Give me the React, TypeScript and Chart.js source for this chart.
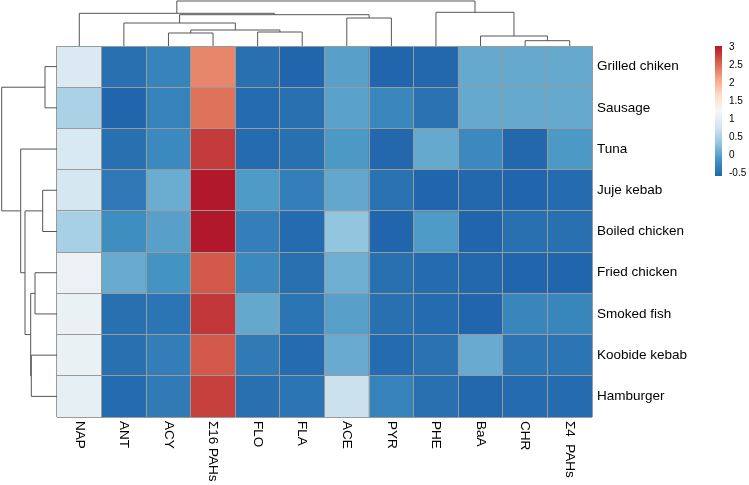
import React, { useEffect, useRef } from "react";
import { Chart, registerables } from "chart.js";

Chart.register(...registerables);

// ---- data ----
const columns = ["NAP", "ANT", "ACY", "Σ16 PAHs", "FLO", "FLA", "ACE", "PYR", "PHE", "BaA", "CHR", "Σ4  PAHs"];
const rowNames = [
  "Grilled chiken",
  "Sausage",
  "Tuna",
  "Juje kebab",
  "Boiled chicken",
  "Fried chicken",
  "Smoked fish",
  "Koobide kebab",
  "Hamburger",
];

const grilledChiken = [0.86, -0.5, -0.31, 2.3, -0.5, -0.6, -0.03, -0.6, -0.58, 0.05, 0.05, 0.05];
const sausage = [0.47, -0.6, -0.32, 2.43, -0.55, -0.5, -0.02, -0.27, -0.48, 0.05, 0.05, 0.05];
const tuna = [0.85, -0.5, -0.25, 2.78, -0.55, -0.5, -0.1, -0.58, 0.05, -0.25, -0.58, -0.1];
const jujeKebab = [0.8, -0.42, 0.08, 3.0, -0.08, -0.35, 0.03, -0.48, -0.6, -0.58, -0.6, -0.55];
const boiledChicken = [0.45, -0.2, -0.03, 3.0, -0.35, -0.55, 0.3, -0.6, -0.08, -0.6, -0.5, -0.5];
const friedChicken = [1.06, 0.06, -0.15, 2.6, -0.25, -0.5, 0.09, -0.5, -0.55, -0.58, -0.6, -0.6];
const smokedFish = [1.05, -0.5, -0.45, 2.8, 0.04, -0.45, -0.03, -0.5, -0.55, -0.6, -0.28, -0.28];
const koobideKebab = [1.05, -0.5, -0.36, 2.6, -0.4, -0.55, 0.06, -0.55, -0.48, 0.06, -0.45, -0.45];
const hamburger = [0.99, -0.55, -0.4, 2.75, -0.5, -0.45, 0.71, -0.32, -0.5, -0.58, -0.55, -0.55];

const rowValues = [grilledChiken, sausage, tuna, jujeKebab, boiledChicken, friedChicken, smokedFish, koobideKebab, hamburger];

// hclust-style merges: negative = leaf (1-based), positive = earlier merge (1-based)
const colMerges = [[-3, -4], [-5, -6], [1, 2], [-2, 3], [-7, -8], [4, 5], [-1, 6], [-11, -12], [-10, 8], [-9, 9], [7, 10]];
const colHeights = [13, 14, 16, 23, 28, 31.3, 32.7, 5.3, 10, 33.7, 45];
const rowMerges = [[-1, -2], [-4, -5], [-6, -7], [-8, -9], [3, 4], [2, 5], [-3, 6], [1, 7]];
const rowHeights = [12, 14.3, 22, 25.7, 26.3, 32, 36.3, 55.3];

const legendTicks = [3, 2.5, 2, 1.5, 1, 0.5, 0, -0.5];
const colorMin = -0.6;
const colorMax = 3.0;
const palette = ["#2166AC", "#4393C3", "#92C5DE", "#D1E5F0", "#F7F7F7", "#FDDBC7", "#F4A582", "#D6604D", "#B2182B"];

// ---- helpers ----
function hexToRgb(h: string): number[] {
  return [parseInt(h.slice(1, 3), 16), parseInt(h.slice(3, 5), 16), parseInt(h.slice(5, 7), 16)];
}
function colorFor(v: number): string {
  let t = (v - colorMin) / (colorMax - colorMin);
  t = Math.max(0, Math.min(1, t));
  const s = t * (palette.length - 1);
  const i = Math.min(Math.floor(s), palette.length - 2);
  const f = s - i;
  const a = hexToRgb(palette[i]);
  const b = hexToRgb(palette[i + 1]);
  const c = a.map((x, k) => Math.round(x + (b[k] - x) * f));
  return `rgb(${c[0]},${c[1]},${c[2]})`;
}

function dendroNodes(merges: number[][], heights: number[], leafPos: (i: number) => number) {
  const pos: number[] = [];
  const getPos = (id: number) => (id < 0 ? leafPos(-id - 1) : pos[id - 1]);
  const getH = (id: number) => (id < 0 ? 0 : heights[id - 1]);
  const segs: { pa: number; ha: number; pb: number; hb: number; h: number }[] = [];
  merges.forEach((m, k) => {
    const pa = getPos(m[0]);
    const pb = getPos(m[1]);
    pos[k] = (pa + pb) / 2;
    segs.push({ pa, ha: getH(m[0]), pb, hb: getH(m[1]), h: heights[k] });
  });
  return segs;
}

const heatmapPlugin = {
  id: "heatmapExtras",
  afterDraw(chart: any) {
    const ctx = chart.ctx as CanvasRenderingContext2D;
    const area = chart.chartArea;
    const xs = chart.scales.x;
    const ys = chart.scales.y;

    // column dendrogram (top)
    const colMax = Math.max(...colHeights);
    const colScale = (area.top - 1) / colMax;
    const cSegs = dendroNodes(colMerges, colHeights, (i) => i);
    ctx.save();
    ctx.strokeStyle = "#555555";
    ctx.lineWidth = 1;
    ctx.beginPath();
    cSegs.forEach((s) => {
      const xa = xs.getPixelForValue(s.pa);
      const xb = xs.getPixelForValue(s.pb);
      const ya = area.top - s.ha * colScale;
      const yb = area.top - s.hb * colScale;
      const y = area.top - s.h * colScale;
      ctx.moveTo(xa, ya);
      ctx.lineTo(xa, y);
      ctx.lineTo(xb, y);
      ctx.lineTo(xb, yb);
    });
    ctx.stroke();

    // row dendrogram (left)
    const rowMax = Math.max(...rowHeights);
    const rowScale = (area.left - 1.7) / rowMax;
    const rSegs = dendroNodes(rowMerges, rowHeights, (i) => i + 0.5);
    ctx.beginPath();
    rSegs.forEach((s) => {
      const ya = ys.getPixelForValue(s.pa);
      const yb = ys.getPixelForValue(s.pb);
      const xa = area.left - s.ha * rowScale;
      const xb = area.left - s.hb * rowScale;
      const x = area.left - s.h * rowScale;
      ctx.moveTo(xa, ya);
      ctx.lineTo(x, ya);
      ctx.lineTo(x, yb);
      ctx.lineTo(xb, yb);
    });
    ctx.stroke();

    // row labels
    ctx.fillStyle = "#000000";
    ctx.font = '13.5px "Liberation Sans", Arial, sans-serif';
    ctx.textAlign = "left";
    ctx.textBaseline = "middle";
    rowNames.forEach((name, i) => {
      ctx.fillText(name, area.right + 5, ys.getPixelForValue(i + 0.5));
    });

    // column labels (rotated clockwise)
    columns.forEach((name, i) => {
      ctx.save();
      ctx.translate(xs.getPixelForValue(i), area.bottom + 4);
      ctx.rotate(Math.PI / 2);
      ctx.textAlign = "left";
      ctx.textBaseline = "middle";
      ctx.fillText(name, 0, 0);
      ctx.restore();
    });

    // colour legend
    const lx = 715;
    const lw = 7;
    const lTop = area.top;
    const lBottom = 176;
    const grad = ctx.createLinearGradient(0, lBottom, 0, lTop);
    palette.forEach((c, i) => grad.addColorStop(i / (palette.length - 1), c));
    ctx.fillStyle = grad;
    ctx.fillRect(lx, lTop, lw, lBottom - lTop);
    ctx.fillStyle = "#000000";
    ctx.font = '10px "Liberation Sans", Arial, sans-serif';
    ctx.textAlign = "left";
    ctx.textBaseline = "middle";
    legendTicks.forEach((v) => {
      const y = lTop + ((colorMax - v) / (colorMax - colorMin)) * (lBottom - lTop);
      ctx.fillText(String(v), lx + 14, y + 1);
    });
    ctx.restore();
  },
};

export default function App() {
  const canvasRef = useRef<HTMLCanvasElement | null>(null);

  useEffect(() => {
    if (!canvasRef.current) return;
    const datasets = rowNames.map((name, r) => ({
      label: name,
      data: columns.map(() => 1),
      backgroundColor: rowValues[r].map(colorFor),
      borderWidth: 0,
      barPercentage: 1,
      categoryPercentage: 1,
      stack: "cells",
    }));
    const chart = new Chart(canvasRef.current, {
      type: "bar",
      data: { labels: columns, datasets },
      options: {
        animation: false,
        responsive: false,
        devicePixelRatio: 1,
        layout: { padding: { left: 57, top: 46, right: 157, bottom: 68 } },
        plugins: { legend: { display: false }, tooltip: { enabled: false }, title: { display: false } },
        scales: {
          x: {
            type: "category",
            stacked: true,
            offset: true,
            ticks: { display: false },
            border: { display: false },
            grid: { offset: true, color: "#9a9a9a", lineWidth: 1, drawTicks: false, z: 1 },
          },
          y: {
            type: "linear",
            stacked: true,
            reverse: true,
            min: 0,
            max: 9,
            ticks: { display: false, stepSize: 1 },
            border: { display: false },
            grid: { color: "#9a9a9a", lineWidth: 1, drawTicks: false, z: 1 },
          },
        },
      },
      plugins: [heatmapPlugin],
    } as any);
    return () => chart.destroy();
  }, []);

  return (
    <div style={{ position: "absolute", left: 0, top: 0, width: 749, height: 485, background: "#ffffff" }}>
      <canvas ref={canvasRef} width={749} height={485} style={{ display: "block" }} />
    </div>
  );
}
